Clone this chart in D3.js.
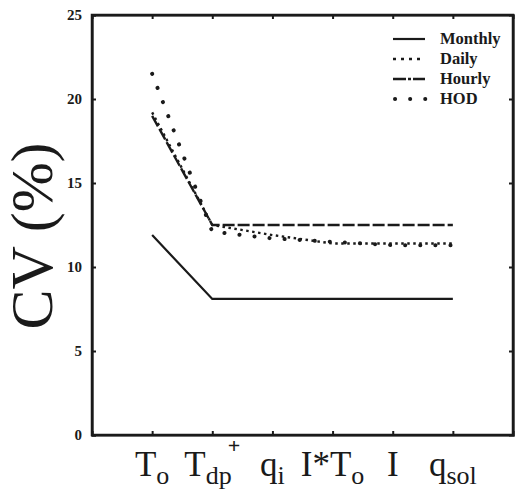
<!DOCTYPE html>
<html><head><meta charset="utf-8">
<script src="https://cdn.jsdelivr.net/npm/d3@7"></script>
<style>body{margin:0;background:#fff;overflow:hidden}svg{display:block}</style>
</head><body>
<script>
const categories = ["To","Tdp+","qi","I*To","I","qsol"];
const monthly = [11.9, 8.1, 8.1, 8.1, 8.1, 8.1];
const daily   = [19.2, 12.5, 11.9, 11.4, 11.4, 11.4];
const hourly  = [19.0, 12.5, 12.5, 12.5, 12.5, 12.5];
const hod     = [21.5, 12.1, 11.7, 11.5, 11.3, 11.3];
const yTicks = [0,5,10,15,20,25];
const seriesNames = ["Monthly","Daily","Hourly","HOD"];
const xLabels = [
  [["T",""],["o","sub"]],
  [["T",""],["dp","sub"],["+","sup"]],
  [["q",""],["i","sub"]],
  [["I*T",""],["o","sub"]],
  [["I",""]],
  [["q",""],["sol","sub"]]
];

const W=517,H=500;
const m={l:92,t:15,r:4,b:65};
const svg=d3.select("body").append("svg").attr("width",W).attr("height",H);
const x=d3.scalePoint().domain(categories).range([m.l,W-m.r]).padding(1.0);
const y=d3.scaleLinear().domain([0,25]).range([H-m.b,m.t]);
const ink="#1a1a1a";
const serif="'Liberation Serif','Times New Roman',serif";

const gL=svg.append("g").attr("transform",`translate(${m.l},0)`)
  .call(d3.axisLeft(y).tickValues(yTicks).tickSize(-4).tickPadding(10));
const gR=svg.append("g").attr("transform",`translate(${W-m.r},0)`)
  .call(d3.axisRight(y).tickValues(yTicks.slice(1,5)).tickSize(-4).tickFormat(""));
const gB=svg.append("g").attr("transform",`translate(0,${H-m.b})`)
  .call(d3.axisBottom(x).tickSize(-4).tickFormat(""));
const gT=svg.append("g").attr("transform",`translate(0,${m.t})`)
  .call(d3.axisTop(x).tickSize(-4).tickFormat(""));
[gL,gR,gB,gT].forEach(g=>{
  g.select(".domain").attr("stroke",ink).attr("stroke-width",2.2);
  g.selectAll(".tick line").attr("stroke",ink).attr("stroke-width",2);
});
gL.selectAll(".tick text").attr("font-family",serif).attr("font-weight","bold").attr("font-size",15).attr("fill",ink);

svg.append("rect").attr("x",m.l).attr("y",m.t).attr("width",W-m.r-m.l).attr("height",H-m.b-m.t)
  .attr("fill","none").attr("stroke",ink).attr("stroke-width",2.5);

const xl=svg.append("g");
categories.forEach((c,i)=>{
  const t=xl.append("text").attr("x",x(c)).attr("y",476).attr("text-anchor","middle")
    .attr("font-family",serif).attr("font-size",35).attr("fill",ink);
  let cur=0;
  xLabels[i].forEach(p=>{
    const s=t.append("tspan").text(p[0]);
    const off = p[1]==="sub"?8:(p[1]==="sup"?-23:0);
    if(off!==cur) s.attr("dy",off-cur);
    cur=off;
    if(p[1]==="sub") s.attr("font-size",26);
    if(p[1]==="sup") s.attr("font-size",22).attr("font-weight","bold").attr("dx",-4);
  });
});

svg.append("text").attr("transform","translate(52,236) rotate(-90)").attr("text-anchor","middle")
  .attr("font-family",serif).attr("font-size",60).attr("fill",ink).text("CV (%)");

const styles={
  Monthly:{dash:null,w:2.2,cap:"butt"},
  Daily:{dash:"2.5,3.5",w:2.4,cap:"butt"},
  Hourly:{dash:"12,3",w:2.4,cap:"butt"},
  HOD:{dash:"0.1,15",w:4,cap:"round"}
};
const data={Monthly:monthly,Daily:daily,Hourly:hourly,HOD:hod};
const line=d3.line().x((d,i)=>x(categories[i])).y(d=>y(d));
seriesNames.forEach(n=>{
  const st=styles[n];
  svg.append("path").datum(data[n]).attr("d",line).attr("fill","none").attr("stroke",ink)
    .attr("stroke-width",st.w).attr("stroke-linecap",st.cap).attr("stroke-dasharray",st.dash);
});

const lg=svg.append("g");
const legY=[39,59,79,99];
const legDash={Monthly:null,Daily:"3,5",Hourly:"13,2,3,2",HOD:"0.1,15"};
seriesNames.forEach((n,i)=>{
  const st=styles[n];
  lg.append("line").attr("x1",n==="HOD"?395:393).attr("x2",n==="HOD"?428:425).attr("y1",legY[i]).attr("y2",legY[i])
    .attr("stroke",ink).attr("stroke-width",st.w).attr("stroke-linecap",st.cap).attr("stroke-dasharray",legDash[n]);
  lg.append("text").attr("x",440).attr("y",legY[i]+5).attr("font-family",serif).attr("font-weight","bold")
    .attr("font-size",16.5).attr("fill",ink).text(n);
});
</script>
</body></html>
